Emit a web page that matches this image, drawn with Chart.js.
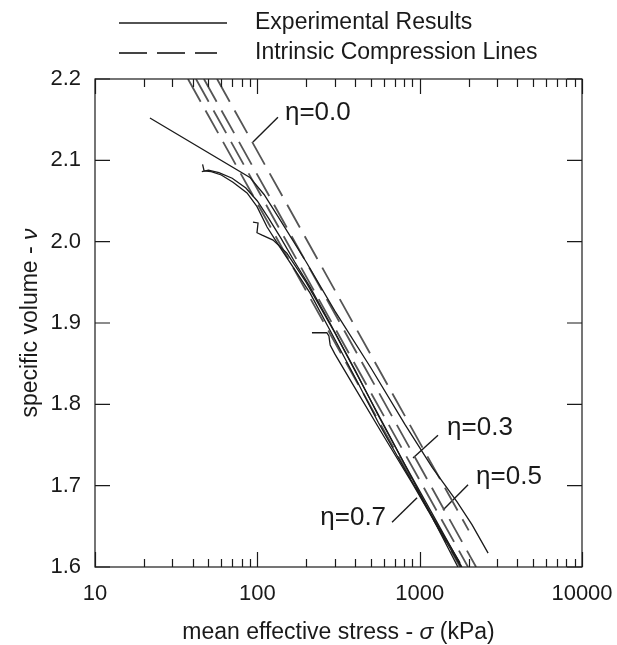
<!DOCTYPE html>
<html>
<head>
<meta charset="utf-8">
<script src="https://cdn.jsdelivr.net/npm/chart.js@4.4.0/dist/chart.umd.min.js"></script>
<style>
  body { margin: 0; background: #fff; }
  canvas { display: block; }
</style>
</head>
<body>
<canvas id="chart" width="617" height="645"></canvas>
<script>
// axis ticks
const xMajor = [10, 100, 1000, 10000];
const yTicks = [1.6, 1.7, 1.8, 1.9, 2.0, 2.1, 2.2];

// experimental results (p' in kPa, specific volume)
const expA_p = [21.8, 90, 110, 140, 200, 300, 500, 813, 1200, 1700, 2100, 2640];
const expA_v = [2.152, 2.079, 2.058, 2.025, 1.975, 1.915, 1.845, 1.775, 1.722, 1.680, 1.652, 1.617];
const expB_p = [46, 47, 52, 60, 70.8, 86.4, 99.6, 114.8, 138, 176, 211, 300, 420, 555, 800, 1200, 1774];
const expB_v = [2.095, 2.087, 2.086, 2.082, 2.073, 2.060, 2.043, 2.018, 1.993, 1.961, 1.937, 1.880, 1.825, 1.778, 1.722, 1.662, 1.605];
const expC_p = [45.5, 50, 58, 70, 85, 100, 118, 140, 170, 210, 280, 400, 560, 800, 1200, 1820];
const expC_v = [2.086, 2.088, 2.085, 2.078, 2.066, 2.050, 2.028, 2.004, 1.975, 1.945, 1.900, 1.842, 1.785, 1.728, 1.665, 1.600];
const expD_p = [94, 101, 99.5, 107, 125, 152, 200, 300, 450, 700, 1100, 1720];
const expD_v = [2.024, 2.023, 2.011, 2.008, 2.002, 1.986, 1.950, 1.888, 1.822, 1.750, 1.675, 1.600];
const expE_p = [217, 268, 276, 281, 300, 400, 596, 900, 1300, 1800];
const expE_v = [1.888, 1.888, 1.884, 1.873, 1.862, 1.820, 1.762, 1.703, 1.648, 1.600];

// intrinsic compression lines
const iclEta = ['η=0.0', 'η=0.3', 'η=0.5', 'η=0.7'];
const iclP0 = [56.5, 46.9, 41.9, 37.4];
const iclV0 = [2.2, 2.2, 2.2, 2.2];
const iclP1 = [2004, 2226, 1986, 1774];
const iclV1 = [1.645, 1.6, 1.6, 1.6];

// label leaders and label anchors
const leadP0 = [134, 1297, 1986, 676];
const leadV0 = [2.153, 1.762, 1.701, 1.655];
const leadP1 = [94, 910, 1393, 964];
const leadV1 = [2.1225, 1.734, 1.670, 1.685];
const labelP = [148, 1476, 2226, 621];
const labelV = [2.158, 1.771, 1.711, 1.660];
const labelAlign = ['left', 'left', 'left', 'right'];

const FONT = "'Liberation Sans', Arial, sans-serif";
const INK = '#1a1a1a';

const pts = (ps, vs) => ps.map((p, i) => ({ x: p, y: vs[i] }));

const datasets = [];
[[expA_p, expA_v], [expB_p, expB_v], [expC_p, expC_v], [expD_p, expD_v], [expE_p, expE_v]].forEach(([ps, vs]) => {
  datasets.push({ data: pts(ps, vs), showLine: true, borderColor: INK, borderWidth: 1.3, pointRadius: 0, tension: 0 });
});
iclEta.forEach((e, i) => {
  datasets.push({
    data: [{ x: iclP0[i], y: iclV0[i] }, { x: iclP1[i], y: iclV1[i] }],
    showLine: true, borderColor: '#555', borderWidth: 1.8, borderDash: [26, 10], pointRadius: 0
  });
  datasets.push({
    data: [{ x: leadP0[i], y: leadV0[i] }, { x: leadP1[i], y: leadV1[i] }],
    showLine: true, borderColor: INK, borderWidth: 1.4, pointRadius: 0
  });
});

const decorations = {
  id: 'decorations',
  afterDatasetsDraw(chart) {
    const { ctx, chartArea: a, scales: { x, y } } = chart;
    ctx.save();
    ctx.strokeStyle = INK;
    ctx.lineWidth = 1.2;
    ctx.strokeRect(a.left, a.top, a.right - a.left, a.bottom - a.top);

    // inward ticks
    ctx.beginPath();
    yTicks.forEach(v => {
      const py = y.getPixelForValue(v);
      ctx.moveTo(a.left, py); ctx.lineTo(a.left + 15, py);
      ctx.moveTo(a.right, py); ctx.lineTo(a.right - 15, py);
    });
    xMajor.forEach(d => {
      for (let k = 1; k <= 9; k++) {
        const v = d * k;
        if (v > 10000) break;
        const px = Math.round(x.getPixelForValue(v)) + 0.5;
        const len = k === 1 ? 15 : 8;
        ctx.moveTo(px, a.bottom); ctx.lineTo(px, a.bottom - len);
        ctx.moveTo(px, a.top); ctx.lineTo(px, a.top + len);
      }
    });
    ctx.stroke();

    // eta labels
    ctx.fillStyle = INK;
    ctx.font = '26px ' + FONT;
    ctx.textBaseline = 'middle';
    iclEta.forEach((t, i) => {
      ctx.textAlign = labelAlign[i];
      ctx.fillText(t, x.getPixelForValue(labelP[i]), y.getPixelForValue(labelV[i]));
    });

    // legend
    ctx.font = '23px ' + FONT;
    ctx.textAlign = 'left';
    ctx.fillText('Experimental Results', 255, 23);
    ctx.fillText('Intrinsic Compression Lines', 255, 53);
    ctx.lineWidth = 1.4;
    ctx.beginPath(); ctx.moveTo(119, 23); ctx.lineTo(227, 23); ctx.stroke();
    ctx.strokeStyle = '#444';
    ctx.lineWidth = 1.8;
    ctx.setLineDash([28, 10]);
    ctx.beginPath(); ctx.moveTo(119, 53); ctx.lineTo(217, 53); ctx.stroke();
    ctx.setLineDash([]);

    // axis titles with italic symbols
    const drawMixed = (parts, cx, cy) => {
      let w = 0;
      parts.forEach(([s, it]) => { ctx.font = (it ? 'italic ' : '') + '23px ' + FONT; w += ctx.measureText(s).width; });
      let px = cx - w / 2;
      parts.forEach(([s, it]) => {
        ctx.font = (it ? 'italic ' : '') + '23px ' + FONT;
        ctx.fillText(s, px, cy);
        px += ctx.measureText(s).width;
      });
    };
    ctx.textAlign = 'left';
    drawMixed([['mean effective stress - ', false], ['σ', true], [' (kPa)', false]], (a.left + a.right) / 2, 633);
    ctx.save();
    ctx.translate(31, (a.top + a.bottom) / 2);
    ctx.rotate(-Math.PI / 2);
    drawMixed([['specific volume - ', false], ['ν', true]], 0, 0);
    ctx.restore();
    ctx.restore();
  }
};

new Chart(document.getElementById('chart'), {
  type: 'scatter',
  data: { datasets },
  options: {
    responsive: false,
    animation: false,
    layout: { padding: { top: 79, right: 35, left: 0, bottom: 0 } },
    plugins: { legend: { display: false }, tooltip: { enabled: false } },
    scales: {
      x: {
        type: 'logarithmic', min: 10, max: 10000,
        afterBuildTicks: s => { s.ticks = xMajor.map(v => ({ value: v })); },
        afterFit: s => { s.height = 78; s.paddingLeft = 0; s.paddingRight = 0; },
        grid: { display: false, drawTicks: false },
        border: { display: false },
        ticks: { callback: v => String(v), color: INK, font: { family: FONT, size: 22 }, padding: 14, maxRotation: 0, autoSkip: false }
      },
      y: {
        min: 1.6, max: 2.2,
        afterBuildTicks: s => { s.ticks = yTicks.map(v => ({ value: v })); },
        afterFit: s => { s.width = 95; s.paddingTop = 0; s.paddingBottom = 0; },
        grid: { display: false, drawTicks: false },
        border: { display: false },
        ticks: { callback: v => Number(v).toFixed(1), color: INK, font: { family: FONT, size: 22 }, padding: 14 }
      }
    }
  },
  plugins: [decorations]
});
</script>
</body>
</html>
